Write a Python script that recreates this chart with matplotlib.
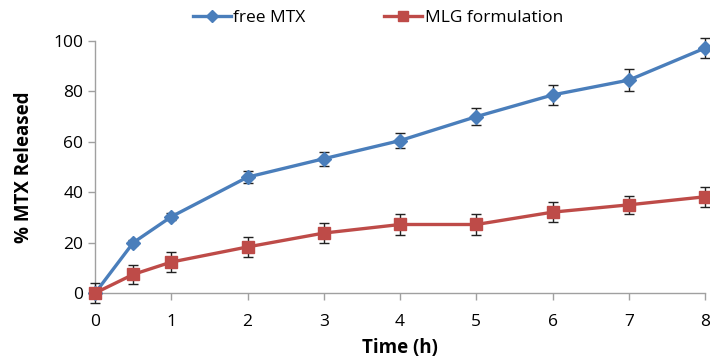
import numpy as np
import matplotlib
matplotlib.use("Agg")
import matplotlib.pyplot as plt

plt.rcParams['font.family'] = ['Open Sans', 'DejaVu Sans']

time_h = [0, 0.5, 1, 2, 3, 4, 5, 6, 7, 8]
free_mtx = [0, 20, 30.3, 46, 53.3, 60.5, 70, 78.6, 84.5, 97.2]
free_err = [0, 1, 1.5, 2.5, 2.7, 3, 3.4, 4, 4.3, 4]
mlg = [0, 7.4, 12.3, 18.3, 23.8, 27.2, 27.2, 32.1, 35, 38.2]
mlg_err = [4, 3.7, 4, 4, 4, 4, 4, 4, 3.7, 4]

blue = '#4a7ebb'
red = '#be4b48'

fig = plt.figure(figsize=(7.1, 3.6), dpi=100)
ax = fig.add_axes([0.134, 0.186, 0.859, 0.70])

l1 = ax.errorbar(time_h, free_mtx, yerr=free_err, color=blue, lw=2.4, marker='D', ms=7,
                 ecolor='#222222', elinewidth=1, capsize=3.5, capthick=1,
                 label='free MTX', clip_on=False, zorder=3)
l2 = ax.errorbar(time_h, mlg, yerr=mlg_err, color=red, lw=2.4, marker='s', ms=9,
                 ecolor='#222222', elinewidth=1, capsize=3.5, capthick=1,
                 label='MLG formulation', clip_on=False, zorder=3)
for l in (l1, l2):
    for c in l[1] + l[2]:
        c.set_clip_on(False)

ax.set_xlim(0, 8)
ax.set_ylim(0, 100)
ax.set_xticks(range(0, 9))
ax.set_yticks(range(0, 101, 20))
for s in ['top', 'right']:
    ax.spines[s].set_visible(False)
for s in ['left', 'bottom']:
    ax.spines[s].set_color('#a0a0a0')
    ax.spines[s].set_linewidth(1)
ax.tick_params(axis='both', colors='#a0a0a0', labelcolor='black', labelsize=12.5, length=5, width=1)
ax.tick_params(axis='x', pad=10)

ax.set_xlabel('Time (h)', fontsize=13.5, fontweight='bold', labelpad=6)
ax.set_ylabel('% MTX Released', fontsize=13.5, fontweight='bold', labelpad=14)

handles, labels = ax.get_legend_handles_labels()
handles = [h[0] for h in handles]
fig.legend(handles, labels, loc='center', bbox_to_anchor=(0.532, 0.95), ncol=2,
           frameon=False, fontsize=12.5, handlelength=2.2, handletextpad=0.15,
           columnspacing=4.5, markerscale=0.85)

fig.savefig('out.png', dpi=100)
